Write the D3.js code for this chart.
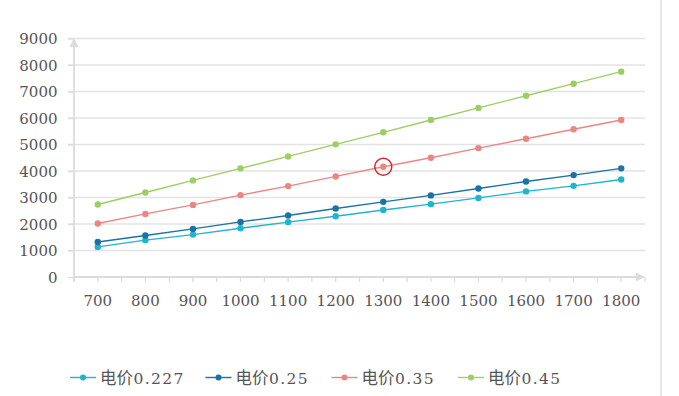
<!DOCTYPE html>
<html>
<head>
<meta charset="utf-8">
<script src="https://cdnjs.cloudflare.com/ajax/libs/d3/7.8.5/d3.min.js"></script>
<style>
  body { margin: 0; background: #fff; }
  svg { display: block; }
  .num { font-family: "DejaVu Serif", serif; font-size: 15px; }
  .cjk { font-family: "Noto Sans CJK SC", sans-serif; font-size: 16.5px; }
  .legnum { font-family: "DejaVu Serif", serif; font-size: 15.5px; letter-spacing: 1.4px; }
</style>
</head>
<body>
<script>
var categories = [700, 800, 900, 1000, 1100, 1200, 1300, 1400, 1500, 1600, 1700, 1800];
var yTicks = [0, 1000, 2000, 3000, 4000, 5000, 6000, 7000, 8000, 9000];

var price0227 = [1135, 1390, 1600, 1840, 2070, 2295, 2530, 2750, 2985, 3230, 3440, 3680];
var price025 = [1320, 1565, 1815, 2080, 2320, 2585, 2835, 3080, 3340, 3605, 3845, 4100];
var price035 = [2020, 2380, 2720, 3090, 3430, 3795, 4160, 4500, 4865, 5215, 5575, 5925];
var price045 = [2735, 3190, 3645, 4100, 4550, 5005, 5460, 5925, 6380, 6840, 7295, 7750];

var seriesNames = ["电价0.227", "电价0.25", "电价0.35", "电价0.45"];
var colors = ["#1fb5cc", "#1a72a6", "#ec8683", "#9ccf63"];

// highlighted point (red circle)
var markIndex = 6;

var width = 679, height = 396;

var svg = d3.select("body").append("svg")
    .attr("width", width)
    .attr("height", height);

var x = d3.scaleBand()
    .domain(categories)
    .range([74, 645])
    .padding(0);

var y = d3.scaleLinear()
    .domain([0, 9000])
    .range([277, 38.5]);

var cx = function (d) { return x(d) + x.bandwidth() / 2; };

// right side separator
svg.append("line")
    .attr("x1", 661).attr("x2", 661)
    .attr("y1", 0).attr("y2", height)
    .attr("stroke", "#e8e8e8")
    .attr("stroke-width", 2);

// gridlines
svg.append("g")
    .selectAll("line")
    .data(yTicks.slice(1))
    .enter()
    .append("line")
    .attr("x1", 68)
    .attr("x2", 645)
    .attr("y1", function (d) { return y(d); })
    .attr("y2", function (d) { return y(d); })
    .attr("stroke", "#e3e3e3")
    .attr("stroke-width", 1.3);

// y axis
var yAxis = d3.axisLeft(y)
    .tickValues(yTicks)
    .tickFormat(d3.format("d"))
    .tickSize(6)
    .tickPadding(10);
var gy = svg.append("g")
    .attr("transform", "translate(74,0)")
    .call(yAxis)
    .attr("font-family", null)
    .attr("font-size", null);
gy.select(".domain").remove();
gy.selectAll(".tick line").attr("stroke", "#dcdcdc").attr("stroke-width", 1.3);
gy.selectAll(".tick text")
    .attr("class", "num")
    .attr("x", -16.5)
    .attr("fill", "#555")
    .attr("dy", "0.36em");

svg.append("line")
    .attr("x1", 74).attr("x2", 74)
    .attr("y1", 282).attr("y2", 44)
    .attr("stroke", "#dcdcdc")
    .attr("stroke-width", 1.8);
svg.append("path")
    .attr("d", "M74,38 L69.5,47 L78.5,47 Z")
    .attr("fill", "#dcdcdc");

// x axis
var half = [];
for (var i = 0; i <= categories.length * 2; i++) half.push(74 + i * x.bandwidth() / 2);
svg.append("g")
    .selectAll("line")
    .data(half)
    .enter()
    .append("line")
    .attr("x1", function (d) { return d; })
    .attr("x2", function (d) { return d; })
    .attr("y1", 277)
    .attr("y2", 282)
    .attr("stroke", "#dcdcdc")
    .attr("stroke-width", 1.3);

svg.append("line")
    .attr("x1", 74).attr("x2", 639)
    .attr("y1", 277).attr("y2", 277)
    .attr("stroke", "#dcdcdc")
    .attr("stroke-width", 1.8);
svg.append("path")
    .attr("d", "M645,277 L636,272.5 L636,281.5 Z")
    .attr("fill", "#dcdcdc");

svg.append("g")
    .selectAll("text")
    .data(categories)
    .enter()
    .append("text")
    .attr("class", "num")
    .attr("x", function (d) { return cx(d); })
    .attr("y", 305.5)
    .attr("text-anchor", "middle")
    .attr("fill", "#555")
    .text(function (d) { return d; });

// series
var allSeries = [price0227, price025, price035, price045];
var line = d3.line()
    .x(function (d, i) { return cx(categories[i]); })
    .y(function (d) { return y(d); });

allSeries.forEach(function (vals, s) {
  var g = svg.append("g");
  g.append("path")
      .datum(vals)
      .attr("d", line)
      .attr("fill", "none")
      .attr("stroke", colors[s])
      .attr("stroke-width", 1.4);
  g.selectAll("circle")
      .data(vals)
      .enter()
      .append("circle")
      .attr("cx", function (d, i) { return cx(categories[i]); })
      .attr("cy", function (d) { return y(d); })
      .attr("r", 3.2)
      .attr("fill", colors[s]);
});

// red highlight ring
svg.append("circle")
    .attr("cx", cx(categories[markIndex]))
    .attr("cy", y(price035[markIndex]))
    .attr("r", 8.5)
    .attr("fill", "none")
    .attr("stroke", "#d9262c")
    .attr("stroke-width", 1.5);

// legend
var legendX = [70, 205.5, 331.5, 458];
var legendY = 377.5;
var leg = svg.append("g")
    .selectAll("g")
    .data(seriesNames)
    .enter()
    .append("g")
    .attr("transform", function (d, i) { return "translate(" + legendX[i] + "," + legendY + ")"; });

leg.append("line")
    .attr("x1", 0).attr("x2", 26)
    .attr("y1", 0).attr("y2", 0)
    .attr("stroke", function (d, i) { return colors[i]; })
    .attr("stroke-width", 1.4);
leg.append("circle")
    .attr("cx", 13).attr("cy", 0).attr("r", 3)
    .attr("fill", function (d, i) { return colors[i]; });

var lt = leg.append("text")
    .attr("x", 30)
    .attr("y", 6)
    .attr("fill", "#555");
lt.append("tspan")
    .attr("class", "cjk")
    .text(function (d) { return d.slice(0, 2); });
lt.append("tspan")
    .attr("class", "legnum")
    .attr("dx", 0.5)
    .text(function (d) { return d.slice(2); });
</script>
</body>
</html>
